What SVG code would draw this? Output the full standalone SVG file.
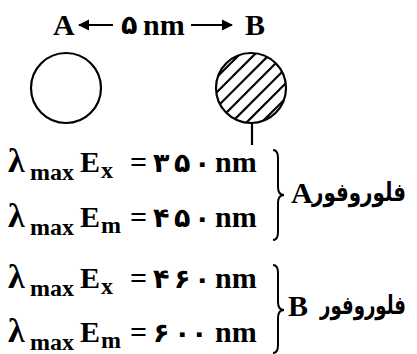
<svg xmlns="http://www.w3.org/2000/svg" width="417" height="354" viewBox="0 0 417 354">
<style>
text{font-family:'Liberation Serif','Times New Roman',Times,serif;font-weight:bold;fill:#000;font-size:30px}
.s{font-size:24px}
.l{font-size:34px}
.d{font-family:'DejaVu Sans','Noto Sans',sans-serif;font-size:27px}
.fa{font-family:'DejaVu Sans','Noto Sans',sans-serif;font-size:26px}
.ln{stroke:#000;stroke-width:2.2;fill:none}
.br{stroke:#000;stroke-width:2;fill:none}
</style>
<defs>
<marker id="ah" viewBox="0 0 10 10" refX="9" refY="5" markerWidth="5.2" markerHeight="5.2" orient="auto" markerUnits="strokeWidth">
<path d="M0,0 L10,5 L0,10 z" fill="#000"/>
</marker>
<clipPath id="cb"><circle cx="251" cy="88" r="35"/></clipPath>
</defs>
<g id="header">
<text x="121" y="34" class="d" font-size="24">۵</text>
<text x="53" y="35">A</text>
<text x="143" y="35">nm</text>
<text x="245" y="35">B</text>
</g>
<g id="connectors">
<line class="ln" x1="113" y1="25" x2="79" y2="25" stroke-width="2.6" marker-end="url(#ah)"/>
<line class="ln" x1="191" y1="25" x2="232" y2="25" stroke-width="2.6" marker-end="url(#ah)"/>
<line class="ln" x1="252" y1="123" x2="252" y2="145"/>
</g>
<g id="fluorophoreA">
<circle class="ln" cx="66" cy="88" r="35"/>
</g>
<g id="fluorophoreB">
<g clip-path="url(#cb)" stroke="#000" stroke-width="2.2">
<line x1="200" y1="94" x2="300" y2="-6"/>
<line x1="200" y1="109" x2="300" y2="9"/>
<line x1="200" y1="124" x2="300" y2="24"/>
<line x1="200" y1="139" x2="300" y2="39"/>
<line x1="200" y1="154" x2="300" y2="54"/>
<line x1="200" y1="169" x2="300" y2="69"/>
<line x1="200" y1="184" x2="300" y2="84"/>
</g>
<circle class="ln" cx="251" cy="88" r="35"/>
</g>
<g id="dataA">
<text y="172"><tspan class="l" x="8">λ</tspan><tspan class="s" x="30" dy="8">max</tspan><tspan x="80" dy="-8">E</tspan><tspan class="s" x="101" dy="6">x</tspan><tspan x="130" dy="-6">=</tspan><tspan class="d" x="153 174 194">۳۵۰</tspan><tspan x="215">nm</tspan></text>
<text y="227"><tspan class="l" x="8">λ</tspan><tspan class="s" x="30" dy="8">max</tspan><tspan x="80" dy="-8">E</tspan><tspan class="s" x="101" dy="6">m</tspan><tspan x="130" dy="-6">=</tspan><tspan class="d" x="153 174 194">۴۵۰</tspan><tspan x="215">nm</tspan></text>
<path class="br" d="M273,150 Q278,150 278,158 L278,187 Q278,195 284,195 Q278,195 278,203 L278,232 Q278,240 273,240"/>
<text x="291" y="203">A</text>
<text class="fa" x="312" y="201" textLength="94" lengthAdjust="spacingAndGlyphs">فلوروفور</text>
</g>
<g id="dataB">
<text y="288"><tspan class="l" x="8">λ</tspan><tspan class="s" x="30" dy="8">max</tspan><tspan x="80" dy="-8">E</tspan><tspan class="s" x="101" dy="6">x</tspan><tspan x="130" dy="-6">=</tspan><tspan class="d" x="153 174 194">۴۶۰</tspan><tspan x="215">nm</tspan></text>
<text y="342"><tspan class="l" x="8">λ</tspan><tspan class="s" x="30" dy="8">max</tspan><tspan x="80" dy="-8">E</tspan><tspan class="s" x="101" dy="6">m</tspan><tspan x="130" dy="-6">=</tspan><tspan class="d" x="153 174 191">۶۰۰</tspan><tspan x="215">nm</tspan></text>
<path class="br" d="M273,265 Q278,265 278,273 L278,302 Q278,310 284,310 Q278,310 278,318 L278,345 Q278,353 273,353"/>
<text x="288" y="316">B</text>
<text class="fa" x="320" y="314" textLength="86" lengthAdjust="spacingAndGlyphs">فلوروفور</text>
</g>
</svg>
